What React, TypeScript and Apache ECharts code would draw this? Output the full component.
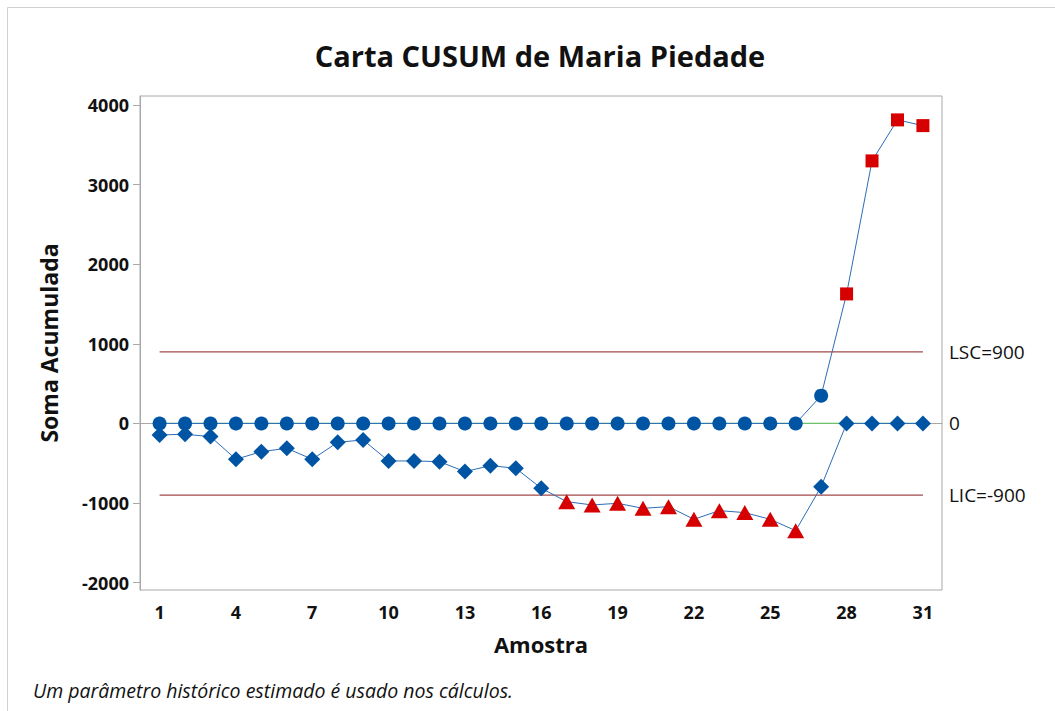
import React, { useEffect, useRef } from "react";
import * as echarts from "echarts";

const samples = [1,2,3,4,5,6,7,8,9,10,11,12,13,14,15,16,17,18,19,20,21,22,23,24,25,26,27,28,29,30,31];
const upperCusum = [0,0,0,0,0,0,0,0,0,0,0,0,0,0,0,0,0,0,0,0,0,0,0,0,0,0,349,1627,3298,3813,3741];
const lowerCusum = [-144,-136,-165,-450,-354,-312,-450,-237,-207,-471,-471,-480,-605,-530,-563,-814,-982,-1024,-1003,-1066,-1045,-1204,-1095,-1120,-1204,-1347,-794,0,0,0,0];
const upperLimit = 900;
const lowerLimit = -900;
const centerValue = 0;
const xTicks = [1,4,7,10,13,16,19,22,25,28,31];
const yTicks = [-2000,-1000,0,1000,2000,3000,4000];

const FONT = "'Open Sans', 'Noto Sans', sans-serif";
const BLUE = "#0054a4";
const RED = "#d60000";
const LINE_BLUE = "#2d6db8";

export default function App() {
  const ref = useRef<HTMLDivElement>(null);
  useEffect(() => {
    if (!ref.current) return;
    const chart = echarts.init(ref.current, null, { renderer: "svg" });
    const upperData = samples.map((s, i) => {
      const v = upperCusum[i];
      const out = v > upperLimit;
      return {
        value: [s, v],
        symbol: out ? "rect" : "circle",
        symbolSize: out ? 13 : 14,
        itemStyle: { color: out ? RED : BLUE },
      };
    });
    const lowerData = samples.map((s, i) => {
      const v = lowerCusum[i];
      const out = v < lowerLimit;
      return {
        value: [s, v],
        symbol: out ? "triangle" : "diamond",
        symbolSize: out ? [17, 15] : 16,
        itemStyle: { color: out ? RED : BLUE },
      };
    });
    const first = samples[0];
    const last = samples[samples.length - 1];
    const endLabel = (txt: string) => ({
      show: true,
      formatter: txt,
      distance: 26,
      color: "#111",
      fontSize: 19,
      fontFamily: FONT,
    });
    chart.setOption({
      animation: false,
      backgroundColor: "#fff",
      title: {
        text: "Carta CUSUM de Maria Piedade",
        left: 535,
        textAlign: "center",
        top: 36,
        textStyle: { fontFamily: FONT, fontSize: 29, fontWeight: "bold", color: "#111" },
      },
      grid: {
        left: 140,
        right: 113,
        top: 96,
        bottom: 121,
        show: true,
        borderColor: "#a8a8a8",
        borderWidth: 1,
        backgroundColor: "transparent",
      },
      xAxis: {
        type: "value",
        min: 0.23,
        max: 31.75,
        name: "Amostra",
        nameLocation: "middle",
        nameGap: 43,
        nameTextStyle: { fontFamily: FONT, fontSize: 22, fontWeight: "bold", color: "#111" },
        axisLine: { show: true, lineStyle: { color: "#a8a8a8" } },
        axisTick: { show: true, length: 7, lineStyle: { color: "#a8a8a8" }, customValues: xTicks },
        axisLabel: { customValues: xTicks, formatter: (v: number) => String(v), fontFamily: FONT, fontSize: 18, fontWeight: "bold", color: "#111", margin: 13 },
        splitLine: { show: false },
      },
      yAxis: {
        type: "value",
        min: -2092,
        max: 4113,
        name: "Soma Acumulada",
        nameLocation: "middle",
        nameGap: 80,
        nameTextStyle: { fontFamily: FONT, fontSize: 23, fontWeight: "bold", color: "#111" },
        axisLine: { show: true, lineStyle: { color: "#a8a8a8" } },
        axisTick: { show: true, length: 7, lineStyle: { color: "#a8a8a8" }, customValues: yTicks },
        axisLabel: { customValues: yTicks, formatter: (v: number) => String(v), fontFamily: FONT, fontSize: 18, fontWeight: "bold", color: "#111", margin: 11 },
        splitLine: { show: false },
      },
      graphic: [
        {
          type: "rect",
          shape: { x: 7.5, y: 7.5, width: 1200, height: 900 },
          style: { fill: "none", stroke: "#d0d0d0", lineWidth: 1 },
          silent: true,
          z: -10,
        },
        {
          type: "text",
          x: 33,
          y: 690,
          style: {
            text: "Um parâmetro histórico estimado é usado nos cálculos.",
            fontFamily: FONT,
            fontSize: 19.5,
            fontStyle: "italic",
            fill: "#111",
            textVerticalAlign: "middle",
          },
        },
      ],
      series: [
        {
          type: "line",
          data: [[first, centerValue], [last, centerValue]],
          symbol: "none",
          lineStyle: { color: "#6cc06c", width: 1.2 },
          endLabel: endLabel("0"),
          z: 1,
        },
        {
          type: "line",
          data: [[first, upperLimit], [last, upperLimit]],
          symbol: "none",
          lineStyle: { color: "#a04848", width: 1.2 },
          endLabel: endLabel("LSC=900"),
          z: 1,
        },
        {
          type: "line",
          data: [[first, lowerLimit], [last, lowerLimit]],
          symbol: "none",
          lineStyle: { color: "#a04848", width: 1.2 },
          endLabel: endLabel("LIC=-900"),
          z: 1,
        },
        {
          type: "line",
          data: upperData,
          lineStyle: { color: LINE_BLUE, width: 1 },
          z: 3,
        },
        {
          type: "line",
          data: lowerData,
          lineStyle: { color: LINE_BLUE, width: 1 },
          z: 3,
        },
      ],
    });
    return () => chart.dispose();
  }, []);
  return (
    <div
      ref={ref}
      style={{ position: "absolute", left: 0, top: 0, width: 1055, height: 711 }}
    />
  );
}
